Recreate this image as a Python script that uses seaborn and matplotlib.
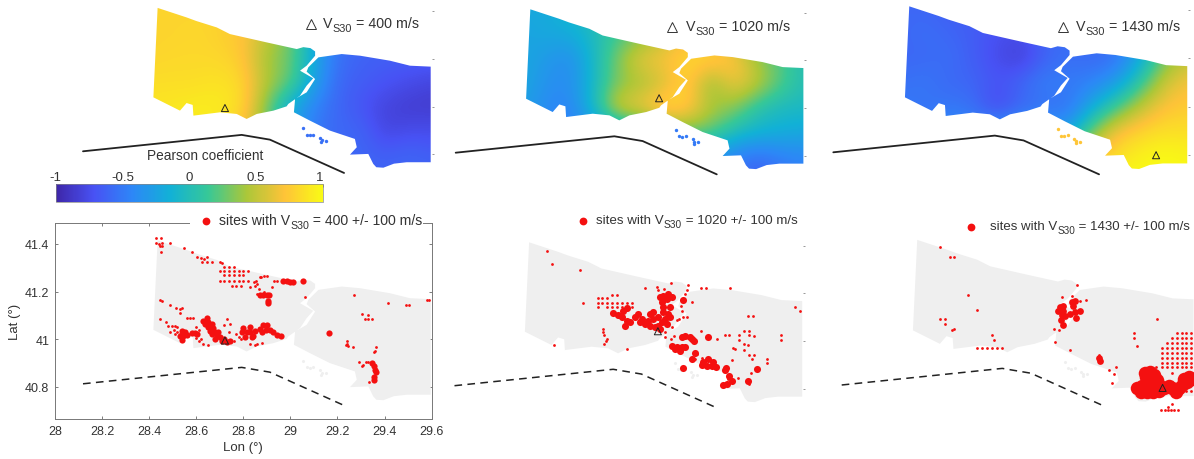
import numpy as np
import matplotlib
matplotlib.use("Agg")
import matplotlib.pyplot as plt
from matplotlib.colors import LinearSegmentedColormap, Normalize
from matplotlib.path import Path
from matplotlib.patches import PathPatch
from matplotlib.cm import ScalarMappable
import seaborn as sns

# ---------- map outline (lon, lat) ----------
euro_lon = [28.436,28.559,28.600,28.687,28.743,28.899,29.027,29.055,29.085,29.105,29.105,29.069,29.041,29.097,29.069,29.041,28.991,28.984,28.928,28.857,28.814,28.772,28.701,28.588,28.585,28.559,28.531,28.418]
euro_lat = [41.415,41.375,41.360,41.333,41.305,41.270,41.242,41.250,41.246,41.232,41.214,41.172,41.151,41.119,41.088,41.046,41.011,41.001,40.983,40.969,40.948,40.969,40.976,40.962,41.007,41.015,40.983,41.039]
asia_lon = [29.076,29.119,29.168,29.218,29.296,29.423,29.508,29.596,29.596,29.494,29.440,29.395,29.365,29.352,29.331,29.253,29.282,29.274,29.168,29.083,29.015,29.020,29.069,29.105,29.069]
asia_lat = [41.165,41.207,41.214,41.221,41.214,41.193,41.172,41.168,40.766,40.766,40.760,40.743,40.745,40.759,40.801,40.798,40.829,40.864,40.899,40.941,40.976,41.032,41.060,41.116,41.147]
isle_lon = [29.055,29.069,29.082,29.097,29.125,29.133,29.130,29.150]
isle_lat = [40.909,40.881,40.879,40.882,40.868,40.858,40.850,40.856]
fault_lon = [28.119,28.793,28.913,29.228]
fault_lat = [40.812,40.881,40.861,40.721]

# ---------- correlation fields ----------
grid_lon = [28.4,28.5,28.6,28.7,28.8,28.9,29.0,29.1,29.2,29.3,29.4,29.5,29.6]
grid_lat = [41.4,41.3,41.2,41.1,41.0,40.9,40.8,40.7]
field_400 = [
 [.80,.80,.80,.80,.75,.55,.30,-.30,-.50,-.55,-.60,-.60,-.60],
 [.80,.80,.82,.78,.72,.50,.30,-.20,-.55,-.60,-.60,-.60,-.60],
 [.80,.82,.82,.82,.75,.40,.28,-.20,-.55,-.62,-.65,-.65,-.65],
 [.85,.85,.85,.88,.82,.45,.25,-.25,-.60,-.65,-.70,-.75,-.80],
 [.88,.90,.92,.92,.85,.30,-.20,-.45,-.60,-.70,-.80,-.85,-.85],
 [.90,.90,.92,.90,.70,.30,-.20,-.50,-.60,-.60,-.80,-.75,-.75],
 [.90,.90,.90,.90,.70,.30,-.30,-.55,-.60,-.60,-.65,-.60,-.65],
 [.90,.90,.90,.90,.70,.30,-.30,-.55,-.60,-.60,-.60,-.60,-.60]]
field_1020 = [
 [-.20,-.20,-.10,.00,.10,.20,.30,.50,.50,.40,.10,.00,-.10],
 [-.25,-.20,-.20,-.05,.15,.30,.50,.70,.60,.50,.20,.05,-.05],
 [-.20,-.30,-.40,-.10,.30,.65,.70,.82,.85,.75,.40,.20,.00],
 [-.20,-.35,-.40,-.10,.30,.40,.55,.85,.30,.70,.50,.20,.00],
 [-.25,-.40,-.45,-.10,.60,.70,.90,.80,.45,.35,.05,-.05,-.05],
 [-.30,-.40,-.50,-.40,-.30,-.20,.20,.30,.25,.00,-.10,-.15,-.20],
 [-.40,-.40,-.45,-.45,-.45,-.45,-.40,-.40,-.30,-.45,-.55,-.45,-.40],
 [-.40,-.40,-.45,-.45,-.45,-.45,-.40,-.40,-.50,-.55,-.65,-.55,-.50]]
field_1430 = [
 [-.60,-.60,-.65,-.65,-.70,-.70,-.60,-.55,-.55,-.50,-.20,.20,.35],
 [-.60,-.55,-.60,-.65,-.72,-.75,-.60,-.55,-.55,-.50,-.25,.20,.40],
 [-.60,-.60,-.55,-.65,-.75,-.85,-.62,-.55,-.60,-.55,-.20,.30,.50],
 [-.55,-.50,-.60,-.60,-.70,-.60,-.45,-.50,-.45,-.30,.10,.55,.70],
 [-.50,-.55,-.50,-.55,-.80,-.60,-.55,-.55,-.20,.15,.50,.72,.75],
 [-.45,-.45,-.40,-.40,-.30,-.25,-.30,-.30,.30,.70,.80,.85,.85],
 [-.30,-.30,-.30,-.30,-.30,-.30,-.30,.30,.70,.85,.95,1.0,.95],
 [-.30,-.30,-.30,-.30,-.30,-.30,-.30,.30,.90,1.0,1.0,1.0,1.0]]
isle_values = [-.55,-.50,.72]

station_lon = [28.722,28.983,29.466]
station_lat = [40.994,41.041,40.800]
vs30 = [400,1020,1430]

# ---------- sites: scattered single sites, and dense clumps ----------
s400_lon = [28.43,28.45,28.43,28.44,28.455,28.445,28.455,28.45,28.49,28.55,28.58,28.605,28.62,28.635,28.645,28.625,28.645,28.665,28.70,28.71,
 28.72,28.74,28.76,28.70,28.72,28.74,28.76,28.78,28.80,28.82,28.72,28.74,28.76,28.78,28.80,28.70,28.72,28.74,28.76,28.78,28.80,28.82,28.75,28.77,28.79,
 28.83,28.845,28.855,28.85,28.86,28.87,28.865,28.93,28.945,28.89,28.90,28.875,28.89,28.92,28.86,29.06,
 28.445,28.455,28.49,28.515,28.53,28.54,28.53,28.445,28.47,28.56,28.575,28.585,28.48,28.495,28.51,28.52,28.49,28.505,28.52,28.53,28.51,
 28.60,28.61,28.63,28.62,28.65,28.60,28.61,28.72,28.73,28.745,28.74,28.77,28.76,28.78,28.79,28.86,28.83,28.85,28.88,
 29.27,29.415,29.49,29.505,29.58,29.59,29.305,29.33,29.315,29.33,29.345,29.24,29.24,29.235,29.245,29.265,29.365,29.36,29.355,29.29,29.32,29.33,29.31,29.305,29.335]
s400_lat = [41.425,41.425,41.405,41.40,41.405,41.39,41.39,41.365,41.405,41.385,41.365,41.345,41.34,41.335,41.345,41.325,41.325,41.325,41.325,41.32,
 41.305,41.305,41.305,41.285,41.285,41.285,41.285,41.285,41.285,41.285,41.27,41.27,41.27,41.27,41.27,41.245,41.245,41.245,41.245,41.245,41.245,41.245,41.225,41.225,41.225,
 41.22,41.24,41.245,41.225,41.23,41.26,41.21,41.245,41.245,41.265,41.265,41.26,41.20,41.22,41.19,41.175,
 41.165,41.16,41.145,41.13,41.125,41.13,41.11,41.085,41.07,41.09,41.09,41.09,41.055,41.055,41.055,41.05,41.03,41.04,41.03,41.02,41.02,
 41.005,40.99,40.98,41.0,40.975,41.05,41.04,41.06,41.085,41.065,41.03,41.02,40.99,41.01,41.0,40.98,40.98,40.975,40.985,
 41.185,41.15,41.145,41.145,41.165,41.165,41.105,41.10,41.085,41.085,41.085,40.99,40.98,40.975,40.97,40.965,40.965,40.95,40.945,40.905,40.905,40.905,40.89,40.885,40.82]
d400_lon = [28.87,28.885,28.90,28.91,28.905,28.905,28.97,28.985,29.0,29.01,29.055,
 28.538,28.552,28.531,28.545,28.562,28.538,28.581,28.594,28.605,
 28.630,28.644,28.651,28.637,28.665,28.651,28.673,28.658,28.680,28.666,28.687,28.694,28.701,28.680,28.708,28.729,28.718,28.743,
 28.800,28.793,28.814,28.807,28.828,28.828,28.835,28.850,28.843,28.871,28.885,28.902,28.878,28.896,28.913,28.927,28.942,28.959,
 29.165,29.345,29.355,29.36,29.365,29.355,29.355]
d400_lat = [41.185,41.185,41.185,41.185,41.16,41.15,41.245,41.245,41.24,41.24,41.245,
 41.033,41.029,41.014,41.012,41.019,40.996,41.024,41.024,41.02,
 41.078,41.089,41.071,41.064,41.064,41.050,41.047,41.036,41.029,41.022,41.015,41.029,41.008,41.0,40.991,40.986,41.0,40.991,
 41.047,41.029,41.029,41.008,41.052,41.029,41.008,41.036,41.014,41.043,41.061,41.061,41.029,41.038,41.038,41.029,41.017,41.012,
 41.025,40.90,40.885,40.87,40.86,40.84,40.83]

s1020_lon = [28.513,28.533,28.651,28.665,28.54,28.85,
 28.729,28.747,28.765,28.79,28.81,28.729,28.747,28.765,28.79,28.81,28.83,28.853,28.875,28.729,28.765,28.79,28.81,28.83,28.853,28.875,
 28.75,28.75,28.754,28.761,28.754,28.765,
 28.93,28.98,28.985,29.037,29.01,29.111,29.106,29.10,29.08,29.087,29.105,29.09,29.073,29.066,29.044,29.05,29.168,29.189,29.288,29.13,29.012,29.012,29.037,
 29.236,29.168,29.148,29.14,29.17,29.325,29.37,29.37,29.378,29.28,
 29.268,29.285,29.328,29.328,29.349,29.37,29.37,29.392,29.349,29.367,29.349,29.37,29.392,29.382,29.448,29.448,29.30,29.31,29.297,29.366,29.389,29.505,29.505,29.567,29.587]
s1020_lat = [41.38,41.322,41.30,41.16,40.985,40.965,
 41.18,41.18,41.18,41.195,41.195,41.16,41.16,41.16,41.16,41.16,41.16,41.16,41.16,41.145,41.145,41.145,41.145,41.145,41.145,41.145,
 41.05,41.036,41.027,41.0,40.987,41.008,
 41.222,41.226,41.215,41.243,41.218,41.235,41.215,41.198,41.149,41.128,41.10,41.10,41.093,41.087,41.057,41.02,41.222,41.222,41.222,41.163,41.036,41.015,41.008,
 41.008,41.043,40.945,40.925,40.93,40.844,40.833,40.82,40.865,40.84,
 41.027,41.025,41.027,41.004,41.044,41.044,41.025,41.022,40.987,40.985,40.963,40.942,40.942,40.924,40.924,40.906,40.97,40.965,40.92,41.105,41.105,41.027,41.004,41.144,41.125]
d1020_lon = [28.794,28.815,28.836,28.850,28.829,28.850,28.843,28.864,28.886,28.900,28.914,28.928,28.907,28.949,28.964,28.942,28.949,28.971,28.985,28.999,29.013,29.034,29.027,29.006,28.985,28.964,28.992,29.020,29.006,29.034,
 29.006,29.027,29.041,29.020,28.992,28.999,29.091,
 29.084,29.098,29.126,29.136,29.119,29.197,29.041,29.063,29.084,29.098,29.056,29.077,
 29.176,29.197,29.219,29.190,29.212,29.230,29.169,29.272,29.268,29.091,29.141,29.127,29.287,29.296,29.275,29.261,29.406,29.367]
d1020_lat = [41.116,41.111,41.128,41.139,41.100,41.085,41.064,41.078,41.100,41.113,41.092,41.071,41.078,41.113,41.120,41.085,41.064,41.057,41.064,41.078,41.092,41.100,41.113,41.120,41.100,41.092,41.050,41.071,41.141,41.141,
 41.191,41.198,41.184,41.177,41.184,41.162,41.172,
 41.015,41.022,41.008,40.999,41.015,41.015,40.98,40.973,40.973,40.973,40.966,40.959,
 40.910,40.924,40.910,40.896,40.893,40.889,40.899,40.885,40.879,40.885,40.950,40.924,40.854,40.833,40.819,40.815,40.882,40.833]

s1430_lon = [28.531,28.573,28.591,28.65,28.689,28.531,28.552,28.552,28.583,28.591,28.752,28.757,
 28.689,28.708,28.729,28.75,28.77,28.79,29.009,29.016,29.079,29.03,29.048,29.108,29.087,29.145,29.045,29.118,29.104,
 29.443,29.345,29.345,29.36,29.243,29.271,29.261,29.254,29.198,
 29.526,29.547,29.565,29.584, 29.505,29.526,29.547,29.565,29.584, 29.484,29.505,29.526,29.547,29.565,29.584,
 29.463,29.484,29.505,29.526,29.547,29.565,29.584, 29.463,29.484,29.505,29.526,29.547,29.565,29.584,
 29.463,29.484,29.505,29.526,29.547,29.565,29.584, 29.463,29.484,29.505,29.526,29.547,29.565,29.584,
 29.44,29.463,29.484,29.505,29.526,29.547,29.565,29.584, 29.505,29.547,29.565,29.584, 29.547,29.565,29.584,
 29.46,29.475,29.487,29.50,29.515,29.53,29.487,29.506]
s1430_lat = [41.384,41.344,41.344,41.186,41.125,41.086,41.086,41.065,41.04,41.045,41.021,41.0,
 40.966,40.966,40.966,40.966,40.966,40.966,41.045,40.992,40.957,41.04,41.059,41.229,41.183,41.165,41.176,41.16,41.086,
 41.086,41.027,41.006,40.973,40.876,40.888,40.858,40.819,40.937,
 41.027,41.027,41.027,41.027, 41.006,41.006,41.006,41.006,41.006, 40.985,40.985,40.985,40.985,40.985,40.985,
 40.964,40.964,40.964,40.964,40.964,40.964,40.964, 40.945,40.945,40.945,40.945,40.945,40.945,40.945,
 40.924,40.924,40.924,40.924,40.924,40.924,40.924, 40.903,40.903,40.903,40.903,40.903,40.903,40.903,
 40.885,40.885,40.885,40.885,40.885,40.885,40.885,40.885, 40.86,40.85,40.85,40.85, 40.785,40.785,40.785,
 40.708,40.708,40.708,40.708,40.708,40.708,40.72,40.733]
d1430_lon = [29.036,29.05,29.029,29.05,29.043,29.057,29.038,29.047,29.085,29.1,29.092,29.078,29.099,29.12,29.103,29.205,29.198]
d1430_lat = [41.135,41.142,41.121,41.121,41.104,41.1,41.082,41.063,41.155,41.162,41.142,41.107,41.114,41.121,41.089,40.913,40.925]
b1430_lon = [29.360,29.381,29.377,29.402,29.402,29.395,29.391,29.413,29.430,29.423,29.444,29.430,29.451,29.427,29.451,29.472,29.493,29.507,29.521,29.535,29.553,29.556,29.577,29.591,29.570]
b1430_lat = [40.798,40.809,40.784,40.784,40.812,40.844,40.862,40.865,40.854,40.834,40.834,40.809,40.812,40.784,40.788,40.798,40.809,40.798,40.784,40.798,40.816,40.837,40.844,40.837,40.823]

# ---------- colormap ----------
parula_hex = ["#3e26a8","#4852f4","#2d87f7","#12b1d6","#37c897","#abc739","#fec338","#f9fb15"]
parula = LinearSegmentedColormap.from_list("parula", parula_hex, N=256)

sns.set_theme(style="white")
plt.rcParams["font.family"] = ["Liberation Sans", "DejaVu Sans"]

W, H = 1194, 460
fig = plt.figure(figsize=(W/100, H/100), dpi=100, facecolor="white")
TXT = "#333333"
RED = "#f41010"

def make_axes(x0, y0, scale, lat_top, lat_bot):
    left = x0 + (28 - fault_lon[0]) * 235.4 * scale
    right = x0 + (29.6 - fault_lon[0]) * 235.4 * scale
    top = y0 + (fault_lat[0] - lat_top) * 237.8 * scale
    bot = y0 + (fault_lat[0] - lat_bot) * 237.8 * scale
    ax = fig.add_axes([left/W, 1-bot/H, (right-left)/W, (bot-top)/H])
    ax.set_xlim(28, 29.6); ax.set_ylim(lat_bot, lat_top)
    ax.patch.set_alpha(0)
    return ax

def hide_frame(ax):
    for s in ax.spines.values():
        s.set_visible(False)
    ax.set_xticks([])
    ax.yaxis.tick_right()
    ax.set_yticks([41.4, 41.2, 41.0, 40.8])
    ax.tick_params(axis="y", length=1.5, width=0.6, color="#888888", labelright=False, right=True, left=False, direction="out")
    ax.set_xlabel(""); ax.set_ylabel("")

def outline_path():
    a = list(zip(euro_lon, euro_lat)); b = list(zip(asia_lon, asia_lat))
    return Path.make_compound_path(Path(a + [a[0]], closed=True), Path(b + [b[0]], closed=True))

def fx(px): return px / W
def fy(py): return 1 - py / H

renderer = fig.canvas.get_renderer()
def vs_label(px, py, before, after, size):
    """Text with a large subscript: 'before' + lowered 'S30' + 'after'."""
    x = px
    for txt, sz, dy in ((before, size, 0), ("S30", size*0.76, size*0.42), (after, size, 0)):
        t = fig.text(fx(x), fy(py + dy + size*0.36), txt, fontsize=sz, color=TXT, va="baseline", ha="left", zorder=6)
        x += t.get_window_extent(renderer).width

# ---------- top row ----------
top_pos = [(83, 152.3, 1.0), (455.7, 153.7, 1.0), (833.3, 153.3, 1.018)]
fields = [field_400, field_1020, field_1430]
top_labels = [(310.7, 25, 323.3), (672, 28.3, 686), (1063, 28.3, 1076)]
ext = [grid_lon[0]-.05, grid_lon[-1]+.05, grid_lat[-1]-.05, grid_lat[0]+.05]
for i in range(3):
    x0, y0, sc = top_pos[i]
    ax = make_axes(x0, y0, sc, 41.45, 40.70)
    im = ax.imshow(np.array(fields[i]), cmap=parula, vmin=-1, vmax=1, extent=ext, aspect="auto", interpolation="bicubic", origin="upper")
    im.set_clip_path(PathPatch(outline_path(), transform=ax.transData))
    ax.set_xlim(28, 29.6); ax.set_ylim(40.70, 41.45)
    ax.scatter(isle_lon, isle_lat, s=6, color=parula((isle_values[i]+1)/2), linewidths=0)
    sns.lineplot(x=fault_lon, y=fault_lat, ax=ax, sort=False, estimator=None, color="#222222", linewidth=1.3)
    ax.scatter([station_lon[i]], [station_lat[i]], marker="^", s=26, facecolors="none", edgecolors="#222222", linewidths=0.7)
    hide_frame(ax)
    tx, ty, lx = top_labels[i]
    fig.add_artist(plt.Line2D([fx(tx)], [fy(ty)], marker="^", ms=6.5, mfc="none", mec="#333333", mew=0.7, transform=fig.transFigure))
    vs_label(lx, ty-1, "V", f" = {vs30[i]} m/s", 10.3)

# ---------- colourbar ----------
cax = fig.add_axes([55.7/W, 1-202.7/H, (323-55.7)/W, 17.7/H])
cb = fig.colorbar(ScalarMappable(norm=Normalize(-1, 1), cmap=parula), cax=cax, orientation="horizontal")
cb.set_ticks([-1, -.5, 0, .5, 1]); cb.set_ticklabels(["-1", "-0.5", "0", "0.5", "1"])
cax.xaxis.set_ticks_position("top")
cax.tick_params(axis="x", direction="in", length=2, width=0.5, color="#555555", labelsize=9.5, labelcolor=TXT, pad=1)
cax.get_xticklabels()[-1].set_ha("right")
cb.outline.set_edgecolor("#888888"); cb.outline.set_linewidth(0.5)
fig.text(fx(205), fy(156), "Pearson coefficient", fontsize=9.8, color=TXT, ha="center", va="center")

# ---------- bottom row ----------
bot_pos = [(83, 384.8, 1.0), (454.5, 386.7, 1.0), (841.7, 386, 1.012)]
sites = [
    (s400_lon, s400_lat, [(d400_lon, d400_lat, 20)]),
    (s1020_lon, s1020_lat, [(d1020_lon, d1020_lat, 26)]),
    (s1430_lon, s1430_lat, [(d1430_lon, d1430_lat, 24), (b1430_lon, b1430_lat, 95)]),
]
legend_pos = [(205.7, 222.3, 219, 10.1), (582.7, 221.7, 596.3, 9.6), (971, 227.7, 990, 9.5)]
for i in range(3):
    x0, y0, sc = bot_pos[i]
    ax = make_axes(x0, y0, sc, 41.49, 40.664)
    ax.add_patch(PathPatch(outline_path(), facecolor="#efefef", edgecolor="none", zorder=1))
    ax.scatter(isle_lon, isle_lat, s=5, color="#efefef", linewidths=0, zorder=1)
    sns.lineplot(x=fault_lon, y=fault_lat, ax=ax, sort=False, estimator=None, color="#222222", linewidth=1.1, linestyle=(0, (5, 3.5)))
    sl, sa, clumps = sites[i]
    sns.scatterplot(x=sl, y=sa, ax=ax, s=4, color=RED, linewidth=0, clip_on=False, zorder=3)
    for dl, da, ds in clumps:
        sns.scatterplot(x=dl, y=da, ax=ax, s=ds, color=RED, linewidth=0, clip_on=False, zorder=3)
    ax.scatter([station_lon[i]], [station_lat[i]], marker="^", s=26, facecolors="none", edgecolors="#222222", linewidths=0.7, zorder=4)
    if i == 0:
        ax.set_xticks([28, 28.2, 28.4, 28.6, 28.8, 29, 29.2, 29.4, 29.6])
        ax.set_xticklabels(["28", "28.2", "28.4", "28.6", "28.8", "29", "29.2", "29.4", "29.6"])
        ax.set_yticks([41.4, 41.2, 41, 40.8]); ax.set_yticklabels(["41.4", "41.2", "41", "40.8"])
        ax.tick_params(axis="both", direction="in", length=2.5, width=0.6, color="#666666", labelsize=9, labelcolor=TXT, top=True, right=True, bottom=True, left=True, pad=4)
        for s in ax.spines.values():
            s.set_visible(True); s.set_color("#777777"); s.set_linewidth(0.7)
        ax.set_xlabel("Lon (°)", fontsize=9.5, color=TXT, labelpad=3)
        ax.set_ylabel("Lat (°)", fontsize=9.5, color=TXT, labelpad=3)
        fig.patches.append(plt.Rectangle((fx(190), fy(231)), (423-190)/W, 18/H, transform=fig.transFigure, facecolor="white", edgecolor="none", zorder=5, figure=fig))
    else:
        hide_frame(ax)
    mx, my, lx, ls = legend_pos[i]
    fig.add_artist(plt.Line2D([fx(mx)], [fy(my)], marker="o", ms=5.6, mfc=RED, mec="none", transform=fig.transFigure, zorder=6))
    vs_label(lx, my-1, "sites with V", f" = {vs30[i]} +/- 100 m/s", ls)

fig.savefig("out.png", dpi=100, facecolor="white")
